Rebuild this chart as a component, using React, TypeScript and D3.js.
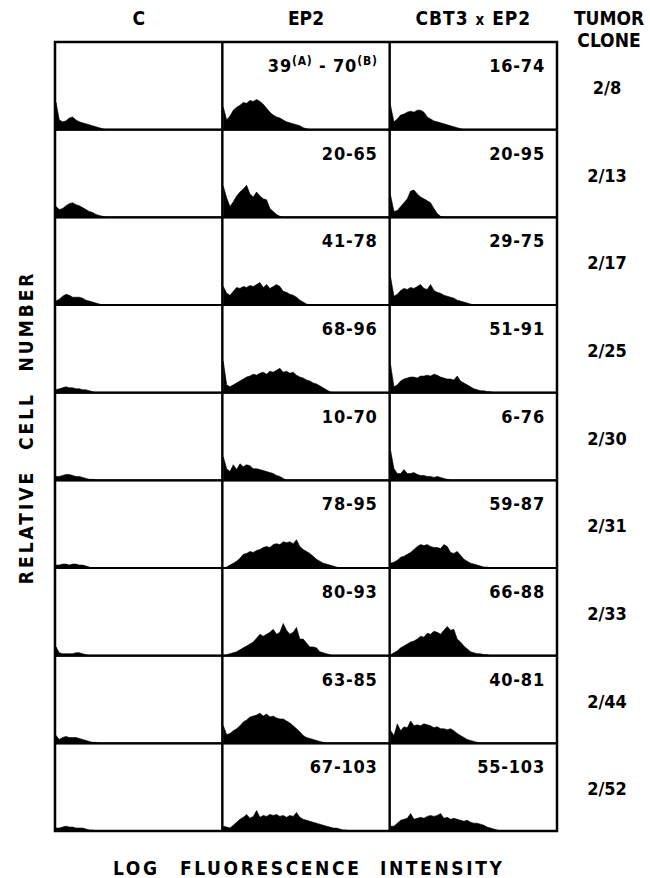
import * as React from 'react';
import * as d3 from 'd3';

// column headers and row (tumor clone) labels
const columns = ['C', 'EP2', 'CBT3 x EP2'];
const clones = ['2/8', '2/13', '2/17', '2/25', '2/30', '2/31', '2/33', '2/44', '2/52'];

// percent positive ranges (A) - (B) printed in the EP2 / CBT3 x EP2 panels
const ep2Ranges = [[39, 70], [20, 65], [41, 78], [68, 96], [10, 70], [78, 95], [80, 93], [63, 85], [67, 103]];
const cbtRanges = [[16, 74], [20, 95], [29, 75], [51, 91], [6, 76], [59, 87], [66, 88], [40, 81], [55, 103]];

// histogram channels shown per panel, and relative cell number scale
const BINS = 50;
const MAX_COUNT = 90;

// relative cell number per channel (log fluorescence), one list per clone
const histC = [
  [28, 10, 8, 9, 12, 13, 10, 8, 7, 6, 5, 4, 3, 2, 1],
  [11, 8, 9, 12, 14, 15, 13, 12, 10, 8, 6, 5, 3, 2, 1],
  [4, 6, 9, 11, 10, 8, 8, 8, 7, 5, 4, 3, 2, 1],
  [3, 4, 5, 6, 5, 5, 4, 4, 3, 3, 2, 1],
  [4, 4, 5, 6, 6, 5, 4, 4, 3, 2, 1, 1],
  [3, 3, 4, 4, 3, 4, 4, 3, 3, 2, 1],
  [9, 3, 2, 2, 2, 2, 3, 3, 2, 1],
  [8, 4, 6, 7, 6, 6, 6, 5, 4, 3, 2, 1, 1],
  [3, 3, 4, 5, 4, 4, 3, 3, 3, 2, 1, 1],
];

const histEP2 = [
  [23, 10, 14, 20, 23, 25, 28, 27, 30, 29, 31, 29, 26, 22, 18, 15, 13, 12, 10, 8, 7, 6, 5, 4, 2, 1],
  [32, 20, 11, 16, 22, 26, 29, 33, 24, 21, 26, 22, 19, 18, 9, 6, 3, 1],
  [19, 12, 10, 14, 18, 17, 19, 18, 20, 19, 21, 23, 18, 21, 17, 19, 21, 19, 14, 13, 11, 10, 8, 5, 3, 1],
  [32, 8, 6, 8, 10, 12, 14, 16, 17, 19, 18, 20, 21, 19, 22, 21, 23, 25, 21, 22, 20, 21, 18, 16, 15, 13, 12, 10, 9, 7, 5, 3, 1],
  [24, 12, 9, 16, 11, 17, 14, 16, 15, 12, 12, 11, 10, 9, 8, 7, 5, 4, 2],
  [0, 1, 3, 5, 7, 10, 14, 15, 17, 16, 18, 19, 21, 22, 21, 24, 25, 24, 27, 26, 27, 25, 29, 22, 19, 17, 15, 12, 9, 7, 5, 4, 3, 2, 1],
  [0, 1, 2, 3, 4, 6, 8, 10, 12, 14, 18, 22, 20, 22, 24, 27, 22, 24, 33, 26, 22, 24, 29, 17, 17, 13, 9, 9, 8, 4, 3, 2, 1],
  [18, 9, 10, 13, 15, 18, 22, 24, 27, 28, 29, 31, 28, 30, 27, 28, 26, 25, 25, 23, 21, 18, 15, 12, 8, 6, 5, 4, 3, 2, 1],
  [5, 4, 3, 6, 9, 12, 14, 17, 13, 15, 21, 14, 16, 15, 17, 16, 17, 15, 16, 14, 16, 15, 19, 14, 12, 11, 10, 9, 8, 7, 6, 5, 4, 3, 3, 2, 1, 1],
];

const histCBT = [
  [24, 8, 11, 15, 16, 18, 19, 18, 20, 20, 18, 13, 11, 9, 8, 7, 6, 5, 4, 3, 2, 1],
  [22, 6, 7, 11, 15, 19, 27, 28, 24, 21, 19, 17, 15, 9, 4, 1],
  [28, 9, 11, 15, 17, 16, 18, 17, 19, 21, 17, 16, 21, 15, 13, 12, 10, 9, 8, 7, 5, 4, 3, 2, 1],
  [28, 6, 8, 12, 14, 15, 16, 16, 15, 17, 17, 18, 17, 19, 18, 16, 15, 14, 14, 13, 17, 12, 10, 8, 6, 4, 3, 2, 2, 1, 1],
  [30, 12, 7, 7, 11, 7, 7, 8, 6, 5, 5, 4, 4, 3, 4, 3, 2, 1],
  [5, 6, 8, 11, 12, 14, 16, 19, 22, 24, 23, 24, 22, 21, 21, 20, 24, 22, 16, 15, 17, 13, 9, 7, 5, 4, 3, 2, 1, 1],
  [1, 3, 5, 8, 10, 12, 14, 15, 17, 20, 19, 23, 22, 25, 24, 22, 26, 30, 26, 27, 17, 14, 10, 7, 4, 3, 2, 2, 1, 1],
  [13, 8, 20, 13, 17, 16, 23, 18, 19, 18, 20, 19, 18, 16, 17, 15, 15, 14, 15, 13, 10, 8, 6, 4, 3, 2, 1],
  [5, 5, 8, 11, 12, 13, 18, 12, 13, 14, 13, 15, 16, 15, 16, 18, 13, 14, 12, 13, 12, 11, 10, 11, 9, 8, 8, 7, 6, 4, 3, 2, 1],
];

const histograms = [histC, histEP2, histCBT];
const ranges = [null, ep2Ranges, cbtRanges];

const FONT = "'DejaVu Sans Condensed', 'DejaVu Sans', sans-serif";

export default function App() {
  const width = 650;
  const height = 878;
  const grid = { left: 55, right: 557, top: 42, bottom: 831 };

  const colScale = d3.scaleBand().domain(columns).range([grid.left, grid.right]);
  const rowScale = d3.scaleBand().domain(clones).range([grid.top, grid.bottom]);
  const bw = colScale.bandwidth();
  const bh = rowScale.bandwidth();

  const panels = [];
  columns.forEach((col, ci) => {
    clones.forEach((clone, ri) => {
      const x0 = colScale(col);
      const y0 = rowScale(clone);
      const x = d3.scaleLinear().domain([0, BINS]).range([x0 + 1, x0 + bw]);
      const y = d3.scaleLinear().domain([0, MAX_COUNT]).range([y0 + bh, y0]);
      const values = [...histograms[ci][ri], 0];
      const area = d3.area<number>()
        .x((d, i) => x(i))
        .y0(y(0))
        .y1(d => y(d));
      const r = ranges[ci] ? ranges[ci][ri] : null;
      panels.push(
        <g key={`${ci}-${ri}`}>
          <path d={area(values)} fill="#000" stroke="#000" strokeWidth={0.6} strokeLinejoin="round" />
          {r && (
            <text x={x0 + bw - 12} y={y0 + 30} textAnchor="end" fontSize={18} letterSpacing={0.8}>
              {ci === 1 && ri === 0 ? (
                <>
                  <tspan>{r[0]}</tspan>
                  <tspan fontSize={12} dy={-7}>(A)</tspan>
                  <tspan dy={7}> - {r[1]}</tspan>
                  <tspan fontSize={12} dy={-7}>(B)</tspan>
                </>
              ) : `${r[0]}-${r[1]}`}
            </text>
          )}
        </g>
      );
    });
  });

  return (
    <svg width={width} height={height} style={{ position: 'absolute', left: 0, top: 0, background: '#fff' }}
      fontFamily={FONT} fontWeight="bold" fill="#000">
      {panels}

      {/* grid lines */}
      {columns.map(col => clones.map(clone => (
        <rect key={`${col}-${clone}`} x={colScale(col)} y={rowScale(clone)} width={bw} height={bh}
          fill="none" stroke="#000" strokeWidth={2} />
      )))}
      <rect x={grid.left} y={grid.top} width={grid.right - grid.left} height={grid.bottom - grid.top}
        fill="none" stroke="#000" strokeWidth={2.5} />

      {/* column headers */}
      {columns.map(col => (
        <text key={col} x={colScale(col) + bw / 2} y={25} textAnchor="middle" fontSize={19} letterSpacing={col.length > 3 ? 1 : 0}>
          {col === 'CBT3 x EP2' ? (
            <>
              <tspan>CBT3 </tspan>
              <tspan fontSize={15}>x</tspan>
              <tspan> EP2</tspan>
            </>
          ) : col}
        </text>
      ))}
      <text x={609} y={25} textAnchor="middle" fontSize={19}>TUMOR</text>
      <text x={609} y={47} textAnchor="middle" fontSize={19}>CLONE</text>

      {/* tumor clone labels */}
      {clones.map(clone => (
        <text key={clone} x={607} y={rowScale(clone) + bh / 2 + 8} textAnchor="middle" fontSize={18}>{clone}</text>
      ))}

      {/* axis titles */}
      {[['NUMBER', 321], ['CELL', 421], ['RELATIVE', 527]].map(([w, c]) => (
        <text key={w} transform={`translate(33,${c}) rotate(-90)`} textAnchor="middle" fontSize={19} letterSpacing={3}>{w}</text>
      ))}
      {[['LOG', 113], ['FLUORESCENCE', 180], ['INTENSITY', 380]].map(([w, s]) => (
        <text key={w} x={s} y={875} fontSize={19} letterSpacing={2.6}>{w}</text>
      ))}
    </svg>
  );
}
